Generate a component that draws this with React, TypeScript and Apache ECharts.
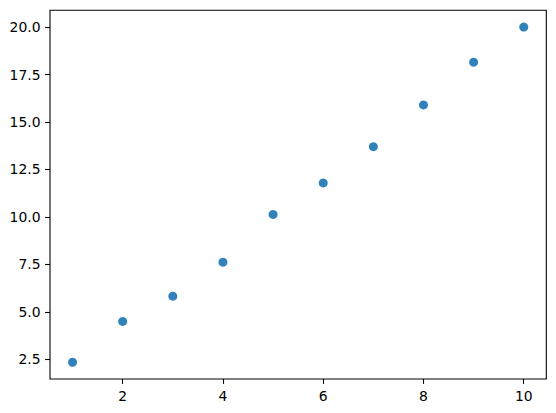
import React, { useEffect, useRef } from "react";
import * as echarts from "echarts";

const xValues = [1, 2, 3, 4, 5, 6, 7, 8, 9, 10];
const yValues = [2.34, 4.49, 5.82, 7.61, 10.13, 11.79, 13.7, 15.9, 18.15, 20.0];
const xTicks = [2, 4, 6, 8, 10];
const yTicks = [2.5, 5.0, 7.5, 10.0, 12.5, 15.0, 17.5, 20.0];

export default function App() {
  const ref = useRef<HTMLDivElement>(null);
  useEffect(() => {
    document.body.style.margin = "0";
    const chart = echarts.init(ref.current!, undefined, { renderer: "svg" });
    const xMin = Math.min(...xValues);
    const xMax = Math.max(...xValues);
    const yMin = Math.min(...yValues);
    const yMax = Math.max(...yValues);
    const xm = (xMax - xMin) * 0.05;
    const ym = (yMax - yMin) * 0.05;
    const labelStyle = {
      color: "#000",
      fontFamily: "DejaVu Sans",
      fontSize: 13.9,
    };
    chart.setOption({
      animation: false,
      backgroundColor: "#fff",
      grid: {
        left: 50,
        top: 10.3,
        right: 9.7,
        bottom: 34,
        show: true,
        borderColor: "#000",
        borderWidth: 1.1,
        containLabel: false,
      },
      xAxis: {
        type: "value",
        min: xMin - xm,
        max: xMax + xm,
        splitLine: { show: false },
        axisLine: { show: false },
        axisTick: {
          show: true,
          length: 4.9,
          lineStyle: { color: "#000", width: 1.1 },
          customValues: xTicks,
        },
        axisLabel: {
          ...labelStyle,
          margin: 9.5,
          customValues: xTicks,
          formatter: (v: number) => String(v),
        },
      },
      yAxis: {
        type: "value",
        min: yMin - ym,
        max: yMax + ym,
        splitLine: { show: false },
        axisLine: { show: false },
        axisTick: {
          show: true,
          length: 4.9,
          lineStyle: { color: "#000", width: 1.1 },
          customValues: yTicks,
        },
        axisLabel: {
          ...labelStyle,
          margin: 9.5,
          customValues: yTicks,
          formatter: (v: number) => v.toFixed(1),
        },
      },
      series: [
        {
          type: "scatter",
          data: xValues.map((x, i) => [x, yValues[i]]),
          symbolSize: 9,
          itemStyle: { color: "#1f77b4", opacity: 0.92 },
        },
      ],
    });
    return () => chart.dispose();
  }, []);
  return (
    <div
      ref={ref}
      style={{ position: "absolute", left: 0, top: 0, width: 556, height: 413 }}
    />
  );
}
